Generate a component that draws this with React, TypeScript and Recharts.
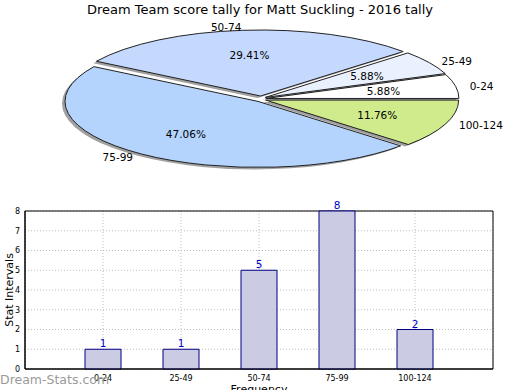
import React from "react";
import {
  PieChart,
  Pie,
  BarChart,
  Bar,
  XAxis,
  YAxis,
  CartesianGrid,
  LabelList,
  ReferenceArea,
  Label,
} from "recharts";

const categories = ["0-24", "25-49", "50-74", "75-99", "100-124"];
const counts = [1, 1, 5, 8, 2];
const sliceColors = ["#ffffff", "#eaf1fe", "#c5d9fe", "#b4d4fe", "#d0eb8c"];
const yTicks = [0, 1, 2, 3, 4, 5, 6, 7, 8];
const xTicks = [1, 2, 3, 4, 5];

const font = "'DejaVu Sans', sans-serif";
const flat = 0.342; // vertical squash of the pie
const explode = 5;

const pieData = categories.map((name, i) => ({ name, value: counts[i] }));
const barData = categories.map((name, i) => ({ name, pos: i + 1, count: counts[i] }));

const rad = Math.PI / 180;

function slicePath(cx: number, cy: number, rx: number, ry: number, a0: number, a1: number) {
  const x0 = cx + rx * Math.cos(a0 * rad);
  const y0 = cy - ry * Math.sin(a0 * rad);
  const x1 = cx + rx * Math.cos(a1 * rad);
  const y1 = cy - ry * Math.sin(a1 * rad);
  const large = a1 - a0 > 180 ? 1 : 0;
  return `M${cx},${cy}L${x0},${y0}A${rx},${ry} 0 ${large} 0 ${x1},${y1}Z`;
}

function offsetOf(p: any) {
  return {
    ox: explode * Math.cos(p.midAngle * rad),
    oy: -explode * Math.sin(p.midAngle * rad) * 0.6,
  };
}

// shadows pass
const renderShadow = (p: any) => {
  const { ox, oy } = offsetOf(p);
  return (
    <path
      key={"s" + p.index}
      d={slicePath(p.cx + ox - 3, p.cy + oy + 2, p.outerRadius, p.outerRadius * flat, p.startAngle, p.endAngle)}
      fill="#a0a0a0"
    />
  );
};

// slices + texts pass
const renderSlice = (p: any) => {
  const { ox, oy } = offsetOf(p);
  const cx = p.cx + ox;
  const cy = p.cy + oy;
  const rx = p.outerRadius;
  const ry = p.outerRadius * flat;
  const c = Math.cos(p.midAngle * rad);
  const s = Math.sin(p.midAngle * rad);
  return (
    <g key={"p" + p.index}>
      <path
        d={slicePath(cx, cy, rx, ry, p.startAngle, p.endAngle)}
        fill={sliceColors[p.index]}
        stroke="#222"
        strokeWidth={1}
      />
      <text
        x={cx + rx * 0.62 * c}
        y={cy - ry * 0.62 * s}
        textAnchor="middle"
        dominantBaseline="central"
        fontSize={10.5}
        fontFamily={font}
        fill="#000"
      >
        {(p.percent * 100).toFixed(2) + "%"}
      </text>
      <text
        x={p.cx + rx * 1.1 * c}
        y={p.cy - ry * 1.1 * s}
        textAnchor={c >= 0 ? "start" : "end"}
        dominantBaseline="central"
        fontSize={10.5}
        fontFamily={font}
        fill="#000"
      >
        {p.name}
      </text>
    </g>
  );
};

const YLabel = (props: any) => {
  const vb = props.viewBox || {};
  const y = (vb.y || 0) + (vb.height || 0) / 2;
  return (
    <text
      x={9}
      y={y}
      transform={`rotate(-90, 9, ${y})`}
      textAnchor="middle"
      dominantBaseline="central"
      fontSize={11}
      fontFamily={font}
      fill="#000"
    >
      Stat Intervals
    </text>
  );
};

export default function App() {
  return (
    <div style={{ position: "absolute", left: 0, top: 0, width: 520, height: 390, background: "#fff", fontFamily: font, overflow: "hidden" }}>
      <div style={{ position: "absolute", left: 0, top: 2, width: 520, textAlign: "center", fontSize: 13, lineHeight: "16px" }}>
        Dream Team score tally for Matt Suckling - 2016 tally
      </div>
      <div style={{ position: "absolute", left: 0, top: 0 }}>
        <PieChart width={520} height={190} margin={{ top: 0, right: 0, bottom: 0, left: 0 }}>
          <Pie
            data={pieData}
            dataKey="value"
            nameKey="name"
            cx={261}
            cy={99}
            outerRadius={193}
            startAngle={0}
            endAngle={360}
            fill="none"
            stroke="none"
            label={renderShadow}
            labelLine={false}
            isAnimationActive={false}
          />
          <Pie
            data={pieData}
            dataKey="value"
            nameKey="name"
            cx={261}
            cy={99}
            outerRadius={193}
            startAngle={0}
            endAngle={360}
            fill="none"
            stroke="none"
            label={renderSlice}
            labelLine={false}
            isAnimationActive={false}
          />
        </PieChart>
      </div>
      <div style={{ position: "absolute", left: 0, top: 200 }}>
        <BarChart width={520} height={200} data={barData} margin={{ top: 11, right: 27, bottom: 10, left: 0 }}>
          <CartesianGrid stroke="#bdbdbd" strokeDasharray="1 2" />
          <XAxis
            type="number"
            dataKey="pos"
            domain={[0, 6]}
            ticks={xTicks}
            interval={0}
            tickFormatter={(v: number) => categories[v - 1]}
            height={21}
            tickSize={0}
            tickMargin={6}
            axisLine={{ stroke: "#000" }}
            tick={{ fontSize: 8, fill: "#000", fontFamily: font }}
          >
            <Label value="Frequency" position="insideBottom" offset={-3} fontSize={11} fill="#000" fontFamily={font} />
          </XAxis>
          <YAxis
            domain={[0, 8]}
            ticks={yTicks}
            interval={0}
            width={25}
            tickSize={0}
            tickMargin={5}
            axisLine={{ stroke: "#000" }}
            tick={{ fontSize: 8, fill: "#000", fontFamily: font }}
          >
            <Label content={YLabel} />
          </YAxis>
          <ReferenceArea x1={0} x2={6} y1={0} y2={8} fill="none" stroke="#000" strokeWidth={1} />
          <Bar dataKey="count" barSize={36} fill="#cbcbe4" stroke="#000080" strokeWidth={1} isAnimationActive={false}>
            <LabelList dataKey="count" position="top" offset={2} fill="#0000cc" fontSize={10.5} fontFamily={font} />
          </Bar>
        </BarChart>
      </div>
      <div style={{ position: "absolute", left: 0, top: 373, fontSize: 12.5, lineHeight: "14px", color: "#9a9a9a" }}>
        Dream-Stats.com
      </div>
    </div>
  );
}
